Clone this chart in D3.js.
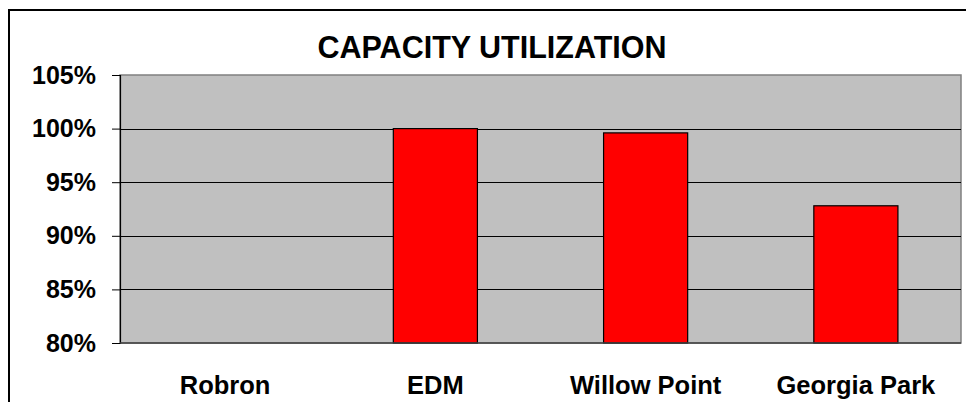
<!DOCTYPE html>
<html>
<head>
<meta charset="utf-8">
<script src="https://cdn.jsdelivr.net/npm/d3@7"></script>
<style>
  html, body { margin: 0; padding: 0; background: #fff; }
  svg { display: block; font-family: Arial, "Liberation Sans", sans-serif; }
</style>
</head>
<body>
<svg id="chart" width="966" height="402"></svg>
<script>
const categories = ["Robron", "EDM", "Willow Point", "Georgia Park"];
const utilization = [null, 1.0, 0.996, 0.928];
const tickValues = [0.80, 0.85, 0.90, 0.95, 1.00, 1.05];
const titleText = "CAPACITY UTILIZATION";

const svg = d3.select("#chart");
const plot = { left: 120, top: 75, right: 961, bottom: 343 };

// outer chart border
svg.append("rect")
  .attr("x", 9).attr("y", 10).attr("width", 1000).attr("height", 500)
  .attr("fill", "#fff").attr("stroke", "#000").attr("stroke-width", 2);

const x = d3.scaleBand().domain(categories).range([plot.left, plot.right]).paddingInner(0.6).paddingOuter(0.3);
const y = d3.scaleLinear().domain([0.80, 1.05]).range([plot.bottom, plot.top]);

// plot area
svg.append("rect")
  .attr("x", plot.left).attr("y", plot.top)
  .attr("width", plot.right - plot.left).attr("height", plot.bottom - plot.top)
  .attr("fill", "#C0C0C0").attr("stroke", "#808080").attr("stroke-width", 1.5);

// gridlines
svg.append("g").selectAll("line")
  .data(tickValues.filter(v => v > 0.8 && v < 1.05))
  .join("line")
  .attr("x1", plot.left).attr("x2", plot.right)
  .attr("y1", d => Math.round(y(d)) + 0.5).attr("y2", d => Math.round(y(d)) + 0.5)
  .attr("stroke", "#000").attr("stroke-width", 1);

// bars
svg.append("g").selectAll("rect")
  .data(categories.map((c, i) => ({ c, v: utilization[i] })).filter(d => d.v != null && d.v > 0.8))
  .join("rect")
  .attr("x", d => x(d.c))
  .attr("y", d => y(d.v))
  .attr("width", x.bandwidth())
  .attr("height", d => y(0.8) - y(d.v))
  .attr("fill", "#FF0000").attr("stroke", "#000").attr("stroke-width", 1.2);

// y axis
const yAxis = d3.axisLeft(y).tickValues(tickValues).tickSize(8).tickPadding(16)
  .tickFormat(d => Math.round(d * 100) + "%");
const gy = svg.append("g").attr("transform", `translate(${plot.left},0)`).call(yAxis);
gy.select(".domain").attr("stroke", "#000").attr("stroke-width", 1.2);
gy.selectAll(".tick line").attr("stroke", "#000");
gy.selectAll(".tick text")
  .attr("font-size", 25).attr("font-weight", "bold").attr("fill", "#000")
  .attr("font-family", "Arial, 'Liberation Sans', sans-serif");

// x axis baseline
svg.append("line")
  .attr("x1", plot.left).attr("x2", plot.right)
  .attr("y1", plot.bottom).attr("y2", plot.bottom)
  .attr("stroke", "#404040").attr("stroke-width", 1.5);

// x labels
const xBand = d3.scaleBand().domain(categories).range([plot.left, plot.right]);
svg.append("g").selectAll("text")
  .data(categories)
  .join("text")
  .attr("x", d => xBand(d) + xBand.bandwidth() / 2)
  .attr("y", 394)
  .attr("text-anchor", "middle")
  .attr("font-size", 25.5).attr("font-weight", "bold").attr("fill", "#000")
  .text(d => d);

// title
svg.append("text")
  .attr("x", 492).attr("y", 58)
  .attr("text-anchor", "middle")
  .attr("font-size", 30.5).attr("font-weight", "bold").attr("fill", "#000")
  .text(titleText);
</script>
</body>
</html>
